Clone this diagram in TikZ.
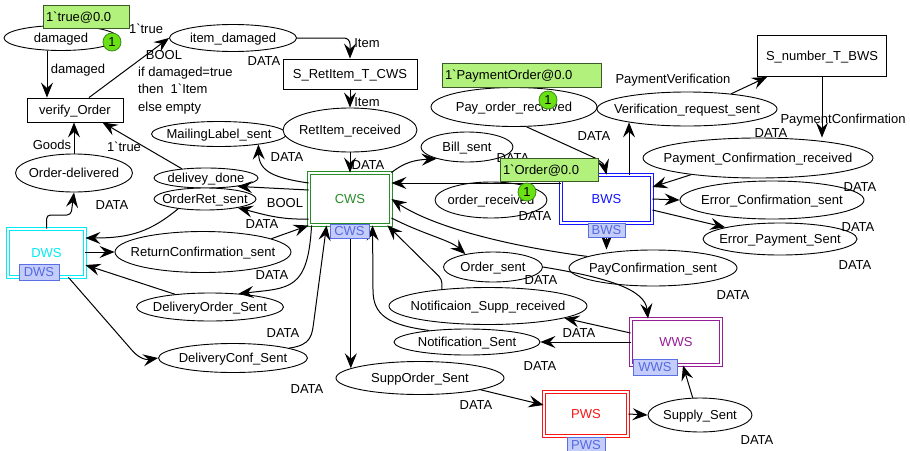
\documentclass[tikz,border=0pt]{standalone}
\usepackage{fontspec}
\setmainfont{Liberation Sans}[Ligatures=TeXOff]
\usetikzlibrary{shapes.geometric,arrows.meta,calc}
\definecolor{cwsc}{RGB}{40,140,40}
\definecolor{bwsc}{RGB}{20,20,255}
\definecolor{dwsc}{RGB}{0,235,245}
\definecolor{wwsc}{RGB}{150,30,150}
\definecolor{pwsc}{RGB}{250,20,20}
\definecolor{tagf}{RGB}{196,205,250}
\definecolor{tagb}{RGB}{90,110,230}
\definecolor{tagt}{RGB}{85,105,225}
\definecolor{mkf}{RGB}{178,242,124}
\definecolor{mkd}{RGB}{60,90,40}
\definecolor{tokf}{RGB}{105,225,20}
\definecolor{tokd}{RGB}{60,140,20}
\begin{document}
\begin{tikzpicture}[x=1pt,y=-1pt,
  every node/.style={font=\fontsize{13}{15}\selectfont},
  plc/.style={draw, ellipse, line width=0.9pt, fill=white, inner sep=0pt, text height=9.4pt, text depth=0pt,
    execute at begin node={\hbox to 0pt\bgroup\hss}, execute at end node={\hss\egroup}},
  trn/.style={draw, rectangle, line width=0.9pt, fill=white, inner sep=0pt, text height=9.4pt, text depth=0pt},
  sbt/.style={rectangle, draw=#1, double=white, double distance=2.2pt, line width=0.9pt, text=#1, fill=white, inner sep=0pt, text height=9.4pt, text depth=0pt},
  tagbox/.style={rectangle, draw=tagb, fill=tagf, text=tagt, line width=0.8pt, inner sep=0pt, text height=9.4pt, text depth=0pt},
  lbl/.style={inner sep=0pt, text height=9.4pt, text depth=0pt},
  mkbox/.style={rectangle, draw=mkd, fill=mkf, line width=0.8pt, inner sep=0pt, text height=9.4pt, text depth=0pt},
  tokn/.style={circle, draw=tokd, fill=tokf, line width=0.8pt, minimum size=18pt, inner sep=0pt, text height=9.4pt, text depth=0pt},
  cn/.style={draw, line width=1pt, -{Stealth[length=15pt,width=12pt,inset=5.5pt]}}]
\useasboundingbox (0,0) rectangle (910,450);

% places
\node[plc,minimum width=114pt,minimum height=25pt] (dam) at (61,38) {damaged};
\node[plc,minimum width=127pt,minimum height=27pt] (itd) at (233,38) {item\_damaged};
\node[plc,minimum width=117pt,minimum height=38pt] (ordel) at (74,173) {Order-delivered};
\node[plc,minimum width=135pt,minimum height=25pt] (mls) at (219,134) {MailingLabel\_sent};
\node[plc,minimum width=104pt,minimum height=20pt] (dd) at (206,178) {delivey\_done};
\node[plc,minimum width=102pt,minimum height=22pt] (ors) at (205,199) {OrderRet\_sent};
\node[plc,minimum width=134pt,minimum height=44pt] (rir) at (350,130) {RetItem\_received};
\node[plc,minimum width=92pt,minimum height=30pt] (bill) at (467,147) {Bill\_sent};
\node[plc,minimum width=166pt,minimum height=39pt] (por) at (514,107) {Pay\_order\_received};
\node[plc,minimum width=112pt,minimum height=36pt] (orr) at (491,200) {order\_received};
\node[plc,minimum width=180pt,minimum height=34pt] (vrs) at (687,109) {Verification\_request\_sent};
\node[plc,minimum width=230pt,minimum height=40pt] (pcr) at (758,158) {Payment\_Confirmation\_received};
\node[plc,minimum width=184pt,minimum height=38pt] (ecs) at (772,200) {Error\_Confirmation\_sent};
\node[plc,minimum width=154pt,minimum height=32pt] (eps) at (780,239) {Error\_Payment\_Sent};
\node[plc,minimum width=168pt,minimum height=36pt] (pcs) at (653,268) {PayConfirmation\_sent};
\node[plc,minimum width=99pt,minimum height=30pt] (os) at (493,267) {Order\_sent};
\node[plc,minimum width=198pt,minimum height=37pt] (nsr) at (488,306) {Notificaion\_Supp\_received};
\node[plc,minimum width=146pt,minimum height=26pt] (ns) at (467,342) {Notification\_Sent};
\node[plc,minimum width=168pt,minimum height=33pt] (sos) at (420,378) {SuppOrder\_Sent};
\node[plc,minimum width=104pt,minimum height=34pt] (ss) at (700,415) {Supply\_Sent};
\node[plc,minimum width=176pt,minimum height=41pt] (rcs) at (203,252) {ReturnConfirmation\_sent};
\node[plc,minimum width=147pt,minimum height=28pt] (dos) at (210,307) {DeliveryOrder\_Sent};
\node[plc,minimum width=149pt,minimum height=29pt] (dcs) at (233,358) {DeliveryConf\_Sent};

% transitions
\node[trn,minimum width=96pt,minimum height=24pt] (vo) at (75,110) {verify\_Order};
\node[trn,minimum width=134pt,minimum height=30pt] (srt) at (350,74) {S\_RetItem\_T\_CWS};
\node[trn,minimum width=129pt,minimum height=41pt] (snb) at (822,56) {S\_number\_T\_BWS};

% substitution transitions
\node[sbt=cwsc,minimum width=82pt,minimum height=52pt] (CWS) at (350,199) {CWS};
\node[sbt=bwsc,minimum width=91pt,minimum height=48pt] (BWS) at (606.5,199) {BWS};
\node[sbt=dwsc,minimum width=77pt,minimum height=48pt] (DWS) at (46.5,253) {DWS};
\node[sbt=wwsc,minimum width=90pt,minimum height=46pt] (WWS) at (676,342) {WWS};
\node[sbt=pwsc,minimum width=84pt,minimum height=44pt] (PWS) at (586,414) {PWS};

% connectors
\draw[cn] ([xshift=-14pt]dam.south) -- ([xshift=-28pt]vo.north);
\draw[cn] ([xshift=14pt]vo.north) -- (itd.west);
\draw[cn,rounded corners=6pt] (itd.east) -| (srt.north);
\draw[cn] (srt.south) -- (rir.north);
\draw[cn] (rir.south) -- (CWS.north);
\draw[cn] ([yshift=16pt]CWS.west) .. controls (275,178) and (259,172) .. (mls.-15);
\draw[cn] ([yshift=9pt]CWS.west) -- (dd.-15);
\draw[cn] ([yshift=-20pt]CWS.west) .. controls (280,220) and (262,214) .. (ors.-15);
\draw[cn] (dd.159) -- ([xshift=-21pt]vo.south east);
\draw[cn] (ordel.north) -- (ordel.north |- vo.south);
\draw[cn,rounded corners=4pt] (DWS.north) |- (71,215) -- (ordel.south);
\draw[cn] (ors.-160) .. controls (150,232) and (130,238) .. ([yshift=15pt]DWS.east);
\draw[cn] (DWS.east |- rcs.west) -- (rcs.west);
\draw[cn] (rcs.11) -- (CWS.south west);
\draw[cn] ([xshift=3pt]CWS.south west) .. controls (308,290) and (290,288) .. (dos.25);
\draw[cn] (dos.160) -- ([yshift=-12pt]DWS.east);
\draw[cn] ([xshift=22pt]DWS.south) -- (130,348) .. controls (138,358) and (145,360) .. (dcs.west);
\draw[cn] (dcs.10) .. controls (312,345) and (312,335) .. (314,320) -- ([xshift=18pt]CWS.south west);
\draw[cn] (sos.172 |- CWS.south) -- (sos.172);
\draw[cn] (ns.163) .. controls (388,325) and (373,315) .. (373,290) -- ([xshift=64pt]CWS.south west);
\draw[cn,rounded corners=4pt] (nsr.160) -- ++(0,-10) -- ([xshift=-4pt]CWS.south east);
\draw[cn] ([yshift=-19pt]CWS.east) .. controls (425,235) and (450,240) .. (os.155);
\draw[cn] (pcs.170) .. controls (500,245) and (430,225) .. (CWS.east);
\draw[cn] ([yshift=16pt]BWS.west) -- ([yshift=16pt]CWS.east);
\draw[cn] (CWS.north east) .. controls (405,162) and (415,160) .. (bill.-159);
\draw[cn] (por.-58) -- (595,158) .. controls (604,164) .. (BWS.north);
\draw[cn] (vrs.-167 |- BWS.north) -- (vrs.-167);
\draw[cn] (vrs.19) -- ([xshift=10pt]snb.south west);
\draw[cn] (snb.south) -- (snb.south |- pcr.north);
\draw[cn] (pcr.-166) -- ([yshift=12pt]BWS.east);
\draw[cn] (BWS.east) -- (ecs.west);
\draw[cn] ([yshift=-11pt]BWS.east) -- (eps.168);
\draw[cn] (BWS.south) -- (BWS.south |- pcs.north);
\draw[cn] (os.east) .. controls (610,278) and (645,290) .. ([xshift=-28pt]WWS.north);
\draw[cn] ([yshift=9pt]WWS.west) -- (nsr.-9);
\draw[cn] (WWS.west) -- (ns.east);
\draw[cn] (sos.-11) -- ([yshift=9pt]PWS.west);
\draw[cn] (PWS.east) -- (ss.west);
\draw[cn] (ss.113) -- ([xshift=7pt]WWS.south);

% tags
\node[tagbox,minimum width=39pt,minimum height=14pt] (tcws) at (349.5,231) {CWS};
\node[tagbox,minimum width=37pt,minimum height=14pt] (tbws) at (606.5,230) {BWS};
\node[tagbox,minimum width=40pt,minimum height=16pt] (tdws) at (39,272) {DWS};
\node[tagbox,minimum width=44pt,minimum height=16pt] (twws) at (655,367) {WWS};
\node[tagbox,minimum width=38pt,minimum height=15pt] (tpws) at (586,444.5) {PWS};

% labels
\node[lbl] (l1) at (146,29) {1`true};
\node[lbl] (l2) at (78,69) {damaged};
\node[lbl] (l3) at (164,55) {BOOL};
\node[lbl,anchor=west] (l4) at (138,72) {if damaged=true};
\node[lbl,anchor=west] (l5) at (138,89) {then\ \ 1`Item};
\node[lbl,anchor=west] (l6) at (138,107) {else empty};
\node[lbl] (l7) at (264,61) {DATA};
\node[lbl] (l8) at (367,43) {Item};
\node[lbl] (l9) at (367,102) {Item};
\node[lbl] (l10) at (368,165) {DATA};
\node[lbl] (l11) at (52,145) {Goods};
\node[lbl] (l12) at (124,147) {1`true};
\node[lbl] (l13) at (287,157) {DATA};
\node[lbl] (l14) at (112,205) {DATA};
\node[lbl] (l15) at (285,203) {BOOL};
\node[lbl] (l16) at (262,224) {DATA};
\node[lbl] (l17) at (272,275) {DATA};
\node[lbl] (l18) at (283,333) {DATA};
\node[lbl] (l19) at (307,389) {DATA};
\node[lbl] (l20) at (513,158) {DATA};
\node[lbl] (l21) at (535,216) {DATA};
\node[lbl] (l22) at (594,136) {DATA};
\node[lbl] (l23) at (673,79) {PaymentVerification};
\node[lbl] (l24) at (843,119) {PaymentConfirmation};
\node[lbl] (l25) at (771,133) {DATA};
\node[lbl] (l26) at (860,187) {DATA};
\node[lbl] (l27) at (858,227) {DATA};
\node[lbl] (l28) at (855,265) {DATA};
\node[lbl] (l29) at (733,295) {DATA};
\node[lbl] (l30) at (541,280) {DATA};
\node[lbl] (l31) at (579,333) {DATA};
\node[lbl] (l32) at (540,366) {DATA};
\node[lbl] (l33) at (476,405) {DATA};
\node[lbl] (l34) at (757,440) {DATA};

% markings and tokens
\node[mkbox,minimum width=86pt,minimum height=23pt] (m1) at (86,16.5) {\hbox to 80pt{1`true@0.0\hfil}};
\node[mkbox,minimum width=159pt,minimum height=24pt] (m2) at (521.5,75) {\hbox to 153pt{1`PaymentOrder@0.0\hfil}};
\node[mkbox,minimum width=98pt,minimum height=23pt] (m3) at (549,169.5) {\hbox to 92pt{1`Order@0.0\hfil}};
\node[tokn] (k1) at (112,42) {1};
\node[tokn] (k2) at (548,100) {1};
\node[tokn] (k3) at (527,192) {1};
\end{tikzpicture}
\end{document}
